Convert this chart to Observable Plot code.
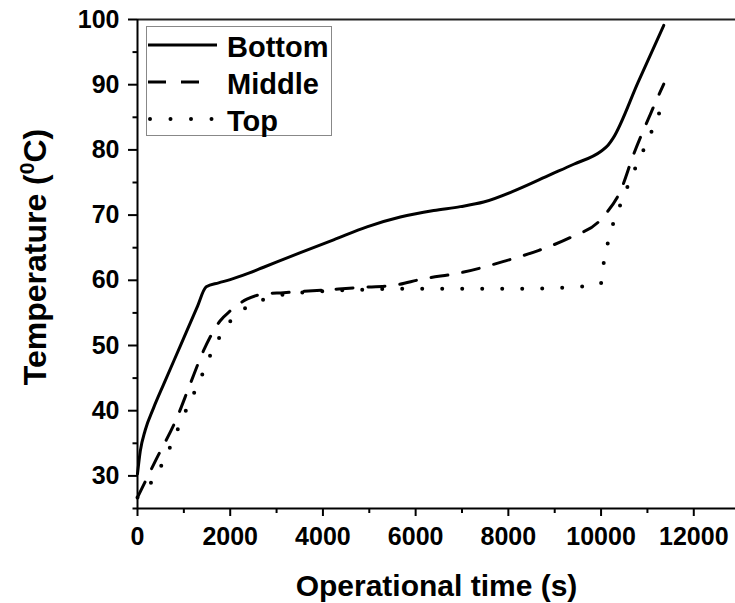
<!DOCTYPE html>
<html>
<head>
<meta charset="utf-8">
<script src="https://cdn.jsdelivr.net/npm/d3@7"></script>
<script src="https://cdn.jsdelivr.net/npm/@observablehq/plot@0.6"></script>
<style>
  html, body { margin: 0; padding: 0; background: #fff; }
  #chart { position: relative; width: 735px; height: 603px; }
  #chart svg { display: block; }
  #legend { position: absolute; left: 0; top: 0; pointer-events: none; }
</style>
</head>
<body>
<div id="chart"></div>
<script>
// Temperature at three heights of the tank over operational time
const seriesNames = ["Bottom", "Middle", "Top"];

const bottomTime = [0, 60, 166, 345, 561, 922, 1282, 1483, 1750, 2000, 2400, 2720, 3500, 4230, 4950, 5670, 6390, 6965, 7467, 8188, 8907, 9410, 10000, 10150, 10260, 10800, 11352];
const bottomTemp = [30.3, 33.8, 37.0, 40.4, 44.0, 49.9, 55.8, 59.0, 59.6, 60.1, 61.1, 62.0, 64.2, 66.2, 68.2, 69.7, 70.7, 71.3, 72.0, 73.9, 76.2, 77.8, 79.8, 80.7, 81.8, 90.4, 99.1];

const middleTime = [0, 400, 850, 1137, 1424, 1785, 2000, 2360, 2720, 3150, 4000, 4800, 5500, 6150, 7000, 7900, 8660, 9350, 9950, 10100, 10418, 10706, 11065, 11352];
const middleTemp = [26.7, 32.5, 38.9, 44.1, 49.2, 53.8, 55.3, 57.1, 57.9, 58.1, 58.5, 58.9, 59.2, 60.2, 61.2, 62.9, 64.6, 66.6, 69.0, 70.2, 73.7, 79.4, 85.5, 90.1];

const topTime = [0, 345, 777, 958, 1160, 1353, 1532, 1748, 2072, 2503, 2935, 3367, 4230, 5000, 6000, 7000, 8000, 9000, 9663, 9990, 10060, 10165, 10310, 10476, 10648, 10850, 11030, 11224, 11260];
const topTemp = [26.7, 29.5, 35.6, 38.7, 41.8, 44.8, 47.9, 51.0, 54.3, 56.4, 57.5, 58.0, 58.4, 58.6, 58.7, 58.7, 58.7, 58.8, 59.1, 59.4, 62.8, 66.3, 69.7, 72.6, 75.8, 78.9, 81.9, 85.0, 85.8];

const xMajorTicks = [0, 2000, 4000, 6000, 8000, 10000, 12000];
const xMinorTicks = [1000, 3000, 5000, 7000, 9000, 11000];
const yMajorTicks = [30, 40, 50, 60, 70, 80, 90, 100];
const yMinorTicks = [25, 35, 45, 55, 65, 75, 85, 95];

const xTitle = "Operational time (s)";
const yTitleParts = ["Temperature (", "0", "C)"];

const rows = (times, temps) => times.map((t, i) => ({t, T: temps[i]}));
const bottom = rows(bottomTime, bottomTemp);
const middle = rows(middleTime, middleTemp);
const top_ = rows(topTime, topTemp);

const font = "'Liberation Sans', Arial, Helvetica, sans-serif";
const lineStyles = {
  Bottom: {strokeWidth: 3},
  Middle: {strokeWidth: 3, strokeDasharray: "17,15"},
  Top: {strokeWidth: 4, strokeDasharray: "0,20", strokeLinecap: "round"}
};

const plot = Plot.plot({
  width: 735,
  height: 603,
  marginLeft: 137,
  marginRight: 0,
  marginTop: 19,
  marginBottom: 95,
  x: {domain: [0, 12900]},
  y: {domain: [25, 100]},
  style: {fontFamily: font, fontWeight: "bold", fontSize: "25px", color: "#000", background: "#fff", overflow: "visible"},
  marks: [
    // frame: top edge, bottom axis, left axis
    Plot.ruleY([100], {stroke: "#222", strokeWidth: 2}),
    Plot.ruleY([25], {stroke: "#000", strokeWidth: 2}),
    Plot.ruleX([0], {stroke: "#000", strokeWidth: 2}),
    // x axis: major ticks with labels, minor ticks between
    Plot.axisX(xMajorTicks, {tickSize: 8, tickPadding: 11, stroke: "#000", strokeWidth: 2, tickFormat: d => `${d}`, label: null}),
    Plot.axisX(xMinorTicks, {tickSize: 5, stroke: "#000", strokeWidth: 2, tickFormat: () => "", label: null}),
    // y axis: outward tick rules hanging off the left edge, then the labels
    Plot.ruleY(yMajorTicks, {x1: 0, x2: 0, insetLeft: -9, stroke: "#000", strokeWidth: 2}),
    Plot.ruleY(yMinorTicks, {x1: 0, x2: 0, insetLeft: -4.5, stroke: "#000", strokeWidth: 2}),
    Plot.axisY(yMajorTicks, {tickSize: 0, tickPadding: 18, tickFormat: d => `${d}`, label: null}),
    // temperature curves
    Plot.line(bottom, {x: "t", y: "T", curve: "monotone-x", stroke: "#000", ...lineStyles.Bottom}),
    Plot.line(middle, {x: "t", y: "T", curve: "monotone-x", stroke: "#000", ...lineStyles.Middle}),
    Plot.line(top_, {x: "t", y: "T", curve: "monotone-x", stroke: "#000", ...lineStyles.Top}),
    Plot.text([xTitle], {text: d => d, frameAnchor: "bottom", lineAnchor: "bottom", dy: 87, fontSize: 30, fontWeight: "bold"})
  ]
});

document.getElementById("chart").appendChild(plot);

// Rotated y-axis title with a superscript degree zero
const svg = d3.select(plot);
const yTitle = svg.append("text")
  .attr("transform", "translate(46,257) rotate(-90)")
  .attr("text-anchor", "middle")
  .attr("font-size", 32)
  .attr("font-weight", "bold")
  .attr("fill", "#000");
yTitle.append("tspan").text(yTitleParts[0]);
yTitle.append("tspan").attr("dy", -12).attr("font-size", 21).text(yTitleParts[1]);
yTitle.append("tspan").attr("dy", 12).text(yTitleParts[2]);

// Legend box in the upper-left corner of the plot
const legend = d3.select("#chart").append("svg")
  .attr("id", "legend")
  .attr("width", 735)
  .attr("height", 603)
  .style("font-family", font)
  .style("font-weight", "bold");
legend.append("rect")
  .attr("x", 146.5).attr("y", 26.5).attr("width", 185).attr("height", 109)
  .attr("fill", "#fff").attr("stroke", "#888").attr("stroke-width", 1);
const sampleEnd = {Bottom: 217, Middle: 205, Top: 213};
seriesNames.forEach((name, i) => {
  const yy = 45 + i * 37;
  const s = lineStyles[name];
  const start = name === "Top" ? 150 : 148;
  legend.append("line")
    .attr("x1", start).attr("x2", sampleEnd[name]).attr("y1", yy).attr("y2", yy)
    .attr("stroke", "#000")
    .attr("stroke-width", s.strokeWidth)
    .attr("stroke-dasharray", name === "Middle" ? "18,15" : name === "Top" ? "0,20.5" : null)
    .attr("stroke-linecap", s.strokeLinecap || null);
  legend.append("text")
    .attr("x", 227).attr("y", yy + 11.5)
    .attr("font-size", 29)
    .attr("fill", "#000")
    .text(name);
});
</script>
</body>
</html>
